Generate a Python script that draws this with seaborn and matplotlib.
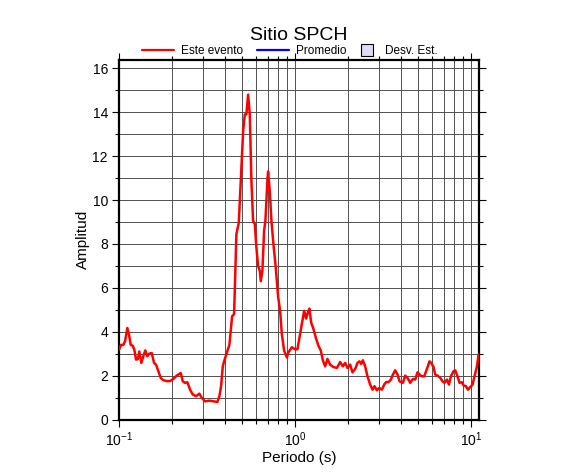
import numpy as np
import pandas as pd
import matplotlib
matplotlib.use("Agg")
import matplotlib.pyplot as plt
from matplotlib.lines import Line2D
from matplotlib.ticker import LogLocator, MultipleLocator, NullFormatter
import seaborn as sns

sns.set_style("white")
plt.rcParams['font.family'] = ['Liberation Sans', 'DejaVu Sans']
plt.rcParams['mathtext.fontset'] = 'custom'
plt.rcParams['mathtext.rm'] = 'Liberation Sans'
plt.rcParams['text.color'] = 'black'
plt.rcParams['axes.labelcolor'] = 'black'

# periodo (s) y amplitud
periodo = [0.1000, 0.1027, 0.1058, 0.1082, 0.1115, 0.1140, 0.1165, 0.1196, 0.1222, 0.1249,
           0.1277, 0.1304, 0.1339, 0.1374, 0.1410, 0.1448, 0.1486, 0.1534, 0.1581, 0.1623,
           0.1672, 0.1726, 0.1785, 0.1866, 0.1949, 0.2035, 0.2127, 0.2242, 0.2301, 0.2371,
           0.2444, 0.2532, 0.2623, 0.2738, 0.2859, 0.2951, 0.3081, 0.3259, 0.3434, 0.3619,
           0.3715, 0.3798, 0.3883, 0.3950, 0.4092, 0.4234, 0.4329, 0.4386, 0.4502, 0.4640,
           0.4788, 0.4915, 0.5065, 0.5179, 0.5288, 0.5407, 0.5528, 0.5645, 0.5772, 0.5902,
           0.6027, 0.6163, 0.6301, 0.6384, 0.6519, 0.6666, 0.6780, 0.6960, 0.7024, 0.7182,
           0.7334, 0.7568, 0.7728, 0.8006, 0.8219, 0.8404, 0.8660, 0.8972, 0.9161, 0.9578,
           1.0000, 1.0306, 1.0676, 1.1003, 1.1250, 1.1548, 1.1808, 1.2058, 1.2328, 1.2705,
           1.3161, 1.3563, 1.3996, 1.4368, 1.4807, 1.5259, 1.5806, 1.6504, 1.7255, 1.8017,
           1.8664, 1.9235, 1.9823, 2.0535, 2.1162, 2.1923, 2.2593, 2.3192, 2.3714, 2.4247,
           2.4988, 2.5751, 2.6676, 2.7492, 2.8220, 2.9121, 3.0013, 3.1091, 3.2041, 3.2892,
           3.3896, 3.4978, 3.5905, 3.7003, 3.8134, 3.9144, 4.0920, 4.2170, 4.3458, 4.5022,
           4.6640, 4.8066, 4.9535, 5.0848, 5.2471, 5.4069, 5.6012, 5.7948, 5.9253, 6.1063,
           6.2435, 6.4342, 6.6658, 6.8694, 7.0515, 7.2765, 7.4697, 7.6679, 7.9332, 8.1113,
           8.3597, 8.5815, 8.8553, 9.0428, 9.3314, 9.5775, 9.8700, 10.172, 10.441, 10.774,
           11.0]
amplitud = [3.18, 3.40, 3.40, 3.56, 4.17, 3.86, 3.40, 3.36, 3.18, 2.73,
            2.75, 3.10, 2.58, 2.88, 3.15, 2.88, 3.00, 3.03, 2.58, 2.50,
            2.20, 1.89, 1.79, 1.75, 1.75, 1.85, 2.00, 2.12, 1.74, 1.67,
            1.70, 1.36, 1.14, 1.06, 1.18, 0.99, 0.83, 0.86, 0.83, 0.80,
            1.06, 1.52, 2.42, 2.65, 3.03, 3.40, 4.20, 4.70, 4.80, 8.45,
            8.97, 10.9, 13.1, 13.9, 13.9, 14.8, 13.9, 10.9, 9.05, 8.90,
            7.83, 7.00, 6.77, 6.30, 6.77, 8.60, 9.05, 10.9, 11.3, 10.4,
            9.05, 7.80, 7.10, 5.60, 4.95, 3.90, 3.14, 2.83, 3.06, 3.29,
            3.20, 3.20, 3.90, 4.50, 4.95, 4.60, 4.88, 5.05, 4.42, 4.13,
            3.68, 3.36, 3.14, 2.70, 2.42, 2.76, 2.50, 2.39, 2.35, 2.62,
            2.42, 2.58, 2.35, 2.50, 2.15, 2.30, 2.58, 2.65, 2.53, 2.70,
            2.42, 1.97, 1.59, 1.36, 1.52, 1.33, 1.44, 1.36, 1.59, 1.71,
            1.70, 1.82, 2.05, 2.24, 2.05, 1.74, 1.67, 2.00, 1.90, 1.67,
            1.85, 1.82, 2.15, 2.05, 1.97, 1.97, 2.30, 2.65, 2.58, 2.39,
            2.05, 2.00, 1.90, 1.74, 1.67, 1.82, 1.59, 1.97, 2.20, 2.24,
            1.97, 1.67, 1.70, 1.55, 1.52, 1.36, 1.48, 1.59, 1.97, 2.42,
            2.95]

df = pd.DataFrame({'Periodo': periodo, 'Amplitud': amplitud})

fig = plt.figure(figsize=(5.86, 4.75), dpi=100)
ax = fig.add_axes([0.2031, 0.1168, 0.6135, 0.7579])

sns.lineplot(x='Periodo', y='Amplitud', data=df, ax=ax, color='#ff0000',
             linewidth=1.8, sort=False, zorder=3)

ax.set_xscale('log')
ax.set_xlim(0.1, 11)
ax.set_ylim(0, 16.4)
ax.xaxis.set_major_locator(LogLocator(base=10))
ax.xaxis.set_minor_locator(LogLocator(base=10, subs=np.arange(2, 10)))
ax.xaxis.set_minor_formatter(NullFormatter())
ax.yaxis.set_major_locator(MultipleLocator(2))
ax.yaxis.set_minor_locator(MultipleLocator(1))

ax.grid(True, which='both', color='#505050', linewidth=0.7)
ax.set_axisbelow(True)

for s in ax.spines.values():
    s.set_linewidth(1.6)
    s.set_color('black')

ax.tick_params(which='both', direction='out', top=True, right=True,
               bottom=True, left=True, width=0.8, colors='black')
ax.tick_params(which='major', length=5, labelsize=10, pad=3)
ax.tick_params(which='minor', length=3)

ax.set_xlabel('Periodo (s)', fontsize=11)
ax.set_ylabel('Amplitud', fontsize=11)
ax.xaxis.set_label_coords(0.5, -0.088)
ax.yaxis.set_label_coords(-0.08, 0.5)

fig.text(0.5094, 1 - 40.5 / 475, 'Sitio SPCH', ha='center', va='baseline', fontsize=14)

# leyenda: dos lineas y un recuadro de desviacion
line_handles = [
    Line2D([], [], color='#ff0000', linewidth=1.6),
    Line2D([], [], color='#0000ff', linewidth=1.6),
]
leg1 = ax.legend(line_handles, ['Este evento', 'Promedio'], ncol=2,
                 loc='center left', bbox_to_anchor=(0.064, 1.024), frameon=False,
                 fontsize=8.5, handlelength=2.7, columnspacing=1.2, handletextpad=0.6,
                 borderaxespad=0.0, borderpad=0.0)
ax.add_artist(leg1)

box_handle = [Line2D([], [], linestyle='none', marker='s', markersize=8.0,
                     markerfacecolor='#dcdcf5', markeredgecolor='black',
                     markeredgewidth=0.8)]
ax.legend(box_handle, ['Desv. Est.'], loc='center left',
          bbox_to_anchor=(0.673, 1.024), frameon=False, fontsize=8.5,
          handlelength=1.0, handletextpad=1.0, borderaxespad=0.0, borderpad=0.0)

fig.savefig('out.png', dpi=100)
